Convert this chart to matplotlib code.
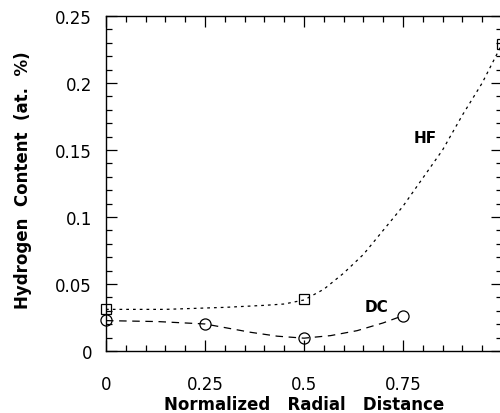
import matplotlib
matplotlib.use("Agg")
import matplotlib.pyplot as plt
from matplotlib.ticker import MultipleLocator, FixedFormatter, FixedLocator

plt.rcParams['font.family'] = ['DejaVu Sans']

# measured hydrogen content (at. %) vs normalized radial distance
hf_x = [0.0, 0.5, 1.0]
hf_y = [0.031, 0.039, 0.229]
dc_x = [0.0, 0.25, 0.5, 0.75]
dc_y = [0.023, 0.020, 0.0095, 0.026]

# fitted trend lines
hf_fit_x = [0.0, 0.15, 0.30, 0.40, 0.45, 0.50, 0.55, 0.60, 0.65, 0.70,
            0.75, 0.80, 0.85, 0.90, 0.95, 1.0]
hf_fit_y = [0.031, 0.031, 0.0325, 0.034, 0.035, 0.038, 0.046, 0.058, 0.072,
            0.090, 0.108, 0.129, 0.150, 0.176, 0.200, 0.229]
dc_fit_x = [0.0, 0.13, 0.25, 0.365, 0.432, 0.5, 0.567, 0.634, 0.70, 0.75]
dc_fit_y = [0.0226, 0.0219, 0.0201, 0.0139, 0.011, 0.0095, 0.0114, 0.0151,
            0.0209, 0.0263]

# the x = 1 tick sits on the right border and carries no label
x_ticks = [0, 0.25, 0.5, 0.75, 1.0]
x_tick_labels = ['0', '0.25', '0.5', '0.75', '']
y_ticks = [0, 0.05, 0.1, 0.15, 0.2, 0.25]
y_tick_labels = ['0', '0.05', '0.1', '0.15', '0.2', '0.25']

fig = plt.figure(figsize=(5, 4.14), dpi=100)
ax = fig.add_axes([0.212, 0.15, 0.792, 0.809])

ax.plot(hf_fit_x, hf_fit_y, color='black', lw=0.9, dashes=(2.2, 3.2))
ax.plot(dc_fit_x, dc_fit_y, color='black', lw=0.9, dashes=(6, 4.5))
ax.plot(hf_x, hf_y, ls='none', marker='s', ms=6.5, mfc='none',
        mec='black', mew=0.9, clip_on=False)
ax.plot(dc_x, dc_y, ls='none', marker='o', ms=8, mfc='none',
        mec='black', mew=0.9, clip_on=False)

ax.text(0.806, 0.159, 'HF', fontsize=11, fontweight='bold',
        ha='center', va='center')
ax.text(0.683, 0.0332, 'DC', fontsize=11, fontweight='bold',
        ha='center', va='center')

ax.set_xlim(0, 1)
ax.set_ylim(0, 0.25)
ax.xaxis.set_major_locator(FixedLocator(x_ticks))
ax.xaxis.set_major_formatter(FixedFormatter(x_tick_labels))
ax.xaxis.set_minor_locator(MultipleLocator(0.05))
ax.yaxis.set_major_locator(FixedLocator(y_ticks))
ax.yaxis.set_major_formatter(FixedFormatter(y_tick_labels))
ax.yaxis.set_minor_locator(MultipleLocator(0.01))

ax.tick_params(which='both', direction='in', top=True, right=True,
               width=0.9, colors='black')
ax.tick_params(which='major', length=8)
ax.tick_params(which='minor', length=4)
ax.tick_params(axis='x', which='major', pad=17, labelsize=12)
ax.tick_params(axis='y', which='major', pad=10, labelsize=12)

for s in ax.spines.values():
    s.set_linewidth(1.0)

ax.set_xlabel('Normalized   Radial   Distance', fontsize=12,
              fontweight='bold')
ax.set_ylabel('Hydrogen  Content  (at.  %)', fontsize=12,
              fontweight='bold')
ax.xaxis.set_label_coords(0.5, -0.133)
ax.yaxis.set_label_coords(-0.186, 0.513)

fig.savefig('out.png', dpi=100, facecolor='white')
